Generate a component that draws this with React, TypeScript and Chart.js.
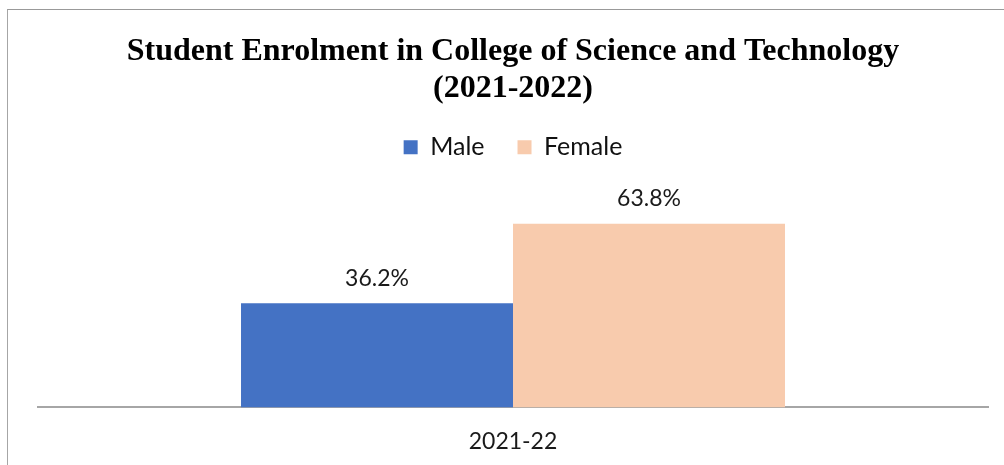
import React, { useEffect, useRef } from "react";
import { Chart, registerables } from "chart.js";

Chart.register(...registerables);

const categories = ["2021-22"];
const seriesNames = ["Male", "Female"];
const maleValues = [36.2];
const femaleValues = [63.8];
const seriesColors = ["#4472C4", "#F8CBAD"];
const titleLines = ["Student Enrolment in College of Science and Technology", "(2021-2022)"];

const dataLabelPlugin = {
  id: "dataLabels",
  afterDatasetsDraw(chart: any) {
    const ctx = chart.ctx;
    ctx.save();
    ctx.font = "23px Lato";
    ctx.fillStyle = "#1a1a1a";
    ctx.textAlign = "center";
    ctx.textBaseline = "middle";
    chart.data.datasets.forEach((ds: any, i: number) => {
      const meta = chart.getDatasetMeta(i);
      meta.data.forEach((bar: any, j: number) => {
        ctx.fillText(ds.data[j].toFixed(1) + "%", bar.x, bar.y - 25);
      });
    });
    ctx.restore();
  },
};

const legendSpacePlugin = {
  id: "legendSpace",
  beforeLayout(chart: any) {
    const legend = chart.legend;
    if (legend && !legend._patched) {
      const orig = legend.fit;
      legend.fit = function () {
        orig.call(this);
        this.height += 36;
      };
      legend._patched = true;
    }
  },
};

export default function App() {
  const ref = useRef<HTMLCanvasElement>(null);
  useEffect(() => {
    if (!ref.current) return;
    const chart = new Chart(ref.current, {
      type: "bar",
      data: {
        labels: categories,
        datasets: [
          { label: seriesNames[0], data: maleValues, backgroundColor: seriesColors[0] },
          { label: seriesNames[1], data: femaleValues, backgroundColor: seriesColors[1] },
        ],
      },
      options: {
        responsive: false,
        animation: false,
        maintainAspectRatio: false,
        layout: { padding: { left: 30, right: 16, top: 0, bottom: -10 } },
        datasets: { bar: { barPercentage: 1, categoryPercentage: 0.5726 } },
        plugins: {
          title: {
            display: true,
            text: titleLines,
            color: "#000",
            font: { family: "'Liberation Serif', 'Times New Roman', serif", size: 32, weight: "bold", lineHeight: 1.16 },
            padding: { top: 23.4, bottom: -5.8 },
          },
          legend: {
            display: true,
            labels: {
              color: "#111",
              font: { family: "Lato", size: 25 },
              boxWidth: 14,
              boxHeight: 14,
              padding: 33,
            },
          },
          tooltip: { enabled: false },
        },
        scales: {
          x: {
            grid: { display: false, drawTicks: false },
            border: { display: true, color: "#a6a6a6", width: 2 },
            ticks: { color: "#1a1a1a", font: { family: "Lato", size: 23 }, padding: 20 },
          },
          y: { display: false, min: 0, max: 70 },
        },
      },
      plugins: [dataLabelPlugin, legendSpacePlugin],
    });
    return () => chart.destroy();
  }, []);
  return (
    <div
      style={{
        position: "absolute",
        left: 7,
        top: 9,
        width: 997,
        height: 456,
        borderTop: "1px solid #999",
        borderLeft: "1px solid #a6a6a6",
        boxSizing: "border-box",
        overflow: "hidden",
        background: "#fff",
      }}
    >
      <canvas ref={ref} width={996} height={455} style={{ display: "block", width: 996, height: 455 }} />
    </div>
  );
}
